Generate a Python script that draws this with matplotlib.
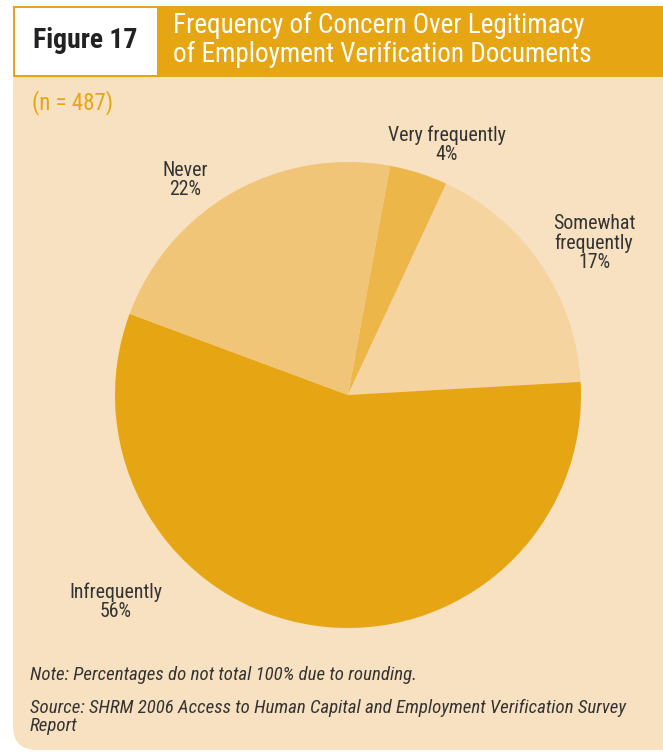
import matplotlib
matplotlib.use("Agg")
import matplotlib.pyplot as plt
from matplotlib.patches import Rectangle, FancyBboxPatch

# Survey responses (percent of respondents)
categories = ["Very frequently", "Somewhat\nfrequently", "Infrequently", "Never"]
values = [4, 17, 56, 22]
colors = ["#ECB748", "#F5D49F", "#E6A614", "#F0C577"]
label_xy = [(447, 145), (594, 243), (116, 602), (185, 180)]

title_lines = "Frequency of Concern Over Legitimacy\nof Employment Verification Documents"
figure_tag = "Figure 17"
sample_note = "(n = 487)"
note = "Note: Percentages do not total 100% due to rounding."
source = "Source: SHRM 2006 Access to Human Capital and Employment Verification Survey\nReport"

W, H = 663, 752
ORANGE = "#E6A614"
PANEL = "#F8E1C1"
TEXT = "#333333"
FONT = ["Roboto Condensed", "DejaVu Sans"]

fig = plt.figure(figsize=(W / 100, H / 100), dpi=100)
fig.patch.set_facecolor("white")
ax = fig.add_axes([0, 0, 1, 1])


def Y(py):
    return H - py


# panel with rounded lower-left corner
ax.add_patch(FancyBboxPatch((13, Y(750)), W + 40, 750 - 60,
                            boxstyle="round,pad=0,rounding_size=24",
                            fc=PANEL, ec="none", zorder=0))
# header band with the figure number box
ax.add_patch(Rectangle((13, Y(77)), W - 13, 71, fc=ORANGE, ec="none", zorder=1))
ax.add_patch(Rectangle((15, Y(75)), 142, 67, fc="white", ec="none", zorder=2))
ax.text(85, Y(41), figure_tag, ha="center", va="center", fontsize=20,
        fontweight="bold", color="#222222", family=FONT, zorder=3)
ax.text(173, Y(40), title_lines, ha="left", va="center", fontsize=19.5,
        color="white", family=FONT, linespacing=1.12, zorder=3)

ax.text(32, Y(103), sample_note, ha="left", va="center", fontsize=16.5,
        color=ORANGE, family=FONT)

# pie
wedges, _ = ax.pie(values, colors=colors, startangle=79.6, counterclock=False,
                   center=(348, Y(395)), radius=233, frame=True,
                   wedgeprops=dict(linewidth=0))
ax.set_xlim(0, W)
ax.set_ylim(0, H)
ax.set_aspect("auto")
ax.axis("off")

for cat, val, (lx, ly) in zip(categories, values, label_xy):
    ax.text(lx, Y(ly), f"{cat}\n{val}%", ha="center", va="center",
            fontsize=14.3, color=TEXT, family=FONT, linespacing=1.0)

ax.text(30, Y(675), note, ha="left", va="center", fontsize=13.6,
        style="italic", color=TEXT, family=FONT)
ax.text(30, Y(717), source, ha="left", va="center", fontsize=13.6,
        style="italic", color=TEXT, family=FONT, linespacing=1.05)

fig.savefig("out.png", dpi=100, facecolor="white")
